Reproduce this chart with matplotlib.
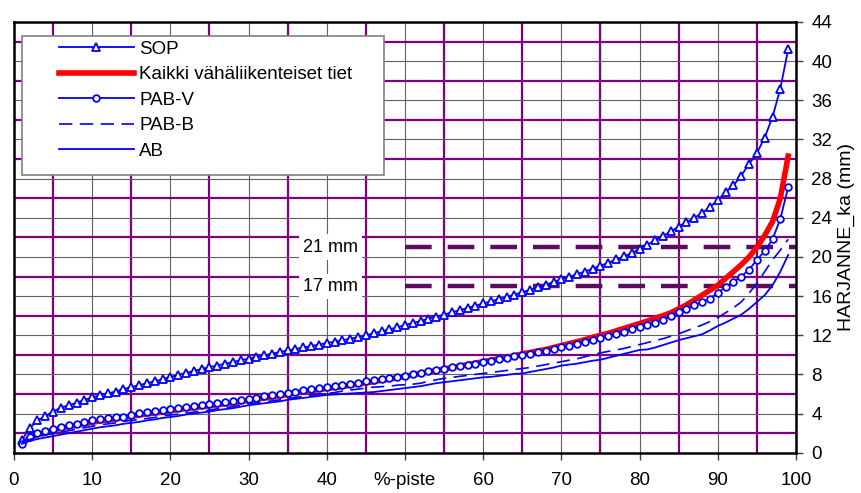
import numpy as np
import matplotlib
matplotlib.use("Agg")
import matplotlib.pyplot as plt
from matplotlib.patches import Rectangle

plt.rcParams['font.family'] = ['Liberation Sans', 'DejaVu Sans']

# Prosenttipisteet 1..99
piste = list(range(1, 100))

sop = [1.3, 2.5, 3.3, 3.75, 4.2, 4.6, 4.85, 5.1, 5.4, 5.65,
       5.85, 6.05, 6.25, 6.5, 6.7, 6.9, 7.1, 7.3, 7.5, 7.75,
       7.95, 8.15, 8.35, 8.55, 8.75, 8.9, 9.1, 9.25, 9.45, 9.6,
       9.8, 9.95, 10.1, 10.3, 10.45, 10.6, 10.75, 10.9, 11.05, 11.2,
       11.35, 11.5, 11.65, 11.8, 12.0, 12.2, 12.4, 12.6, 12.8, 13.05,
       13.25, 13.45, 13.7, 13.9, 14.1, 14.35, 14.55, 14.8, 15.0, 15.25,
       15.45, 15.7, 15.9, 16.15, 16.4, 16.65, 16.9, 17.15, 17.45, 17.7,
       17.95, 18.25, 18.5, 18.8, 19.1, 19.4, 19.75, 20.05, 20.4, 20.8,
       21.25, 21.7, 22.15, 22.6, 23.1, 23.55, 24.0, 24.5, 25.1, 25.8,
       26.6, 27.3, 28.3, 29.5, 30.6, 32.2, 34.3, 37.2, 41.2]

kaikki = [1.0, 1.5, 1.85, 2.1, 2.3, 2.5, 2.65, 2.8, 2.95, 3.1,
          3.25, 3.35, 3.45, 3.6, 3.7, 3.85, 3.95, 4.05, 4.15, 4.3,
          4.4, 4.5, 4.6, 4.7, 4.8, 4.9, 5.0, 5.1, 5.2, 5.35,
          5.45, 5.6, 5.7, 5.8, 5.95, 6.1, 6.2, 6.35, 6.45, 6.55,
          6.65, 6.75, 6.9, 7.0, 7.15, 7.25, 7.4, 7.5, 7.65, 7.8,
          7.95, 8.1, 8.25, 8.4, 8.55, 8.7, 8.85, 9.0, 9.15, 9.3,
          9.45, 9.6, 9.75, 9.9, 10.1, 10.25, 10.4, 10.55, 10.75, 10.95,
          11.15, 11.35, 11.55, 11.8, 12.0, 12.2, 12.45, 12.7, 12.95, 13.2,
          13.45, 13.75, 14.0, 14.3, 14.7, 15.1, 15.6, 16.1, 16.6, 17.1,
          17.8, 18.5, 19.2, 20.0, 21.0, 22.2, 23.6, 26.0, 30.3]

pab_v = [0.9, 1.6, 2.0, 2.25, 2.45, 2.6, 2.8, 2.95, 3.1, 3.3,
         3.4, 3.5, 3.6, 3.7, 3.9, 4.05, 4.15, 4.25, 4.35, 4.45,
         4.55, 4.65, 4.75, 4.85, 4.97, 5.07, 5.17, 5.27, 5.37, 5.5,
         5.6, 5.75, 5.85, 5.95, 6.1, 6.25, 6.4, 6.5, 6.6, 6.7,
         6.8, 6.9, 7.0, 7.15, 7.3, 7.4, 7.5, 7.6, 7.75, 7.85,
         8.0, 8.15, 8.3, 8.45, 8.6, 8.75, 8.85, 9.0, 9.1, 9.25,
         9.4, 9.55, 9.7, 9.85, 9.97, 10.1, 10.25, 10.4, 10.55, 10.75,
         10.9, 11.1, 11.3, 11.5, 11.75, 11.9, 12.1, 12.35, 12.6, 12.8,
         13.0, 13.3, 13.6, 13.95, 14.4, 14.7, 15.07, 15.4, 15.75, 16.35,
         16.9, 17.45, 18.0, 18.7, 19.7, 20.6, 21.8, 23.9, 27.1]

pab_b = [1.0, 1.35, 1.6, 1.8, 1.95, 2.1, 2.25, 2.4, 2.55, 2.7,
         2.85, 2.95, 3.05, 3.2, 3.3, 3.4, 3.5, 3.6, 3.75, 3.85,
         3.95, 4.05, 4.15, 4.25, 4.35, 4.5, 4.6, 4.7, 4.85, 5.0,
         5.1, 5.2, 5.3, 5.4, 5.55, 5.65, 5.75, 5.85, 5.95, 6.05,
         6.15, 6.3, 6.4, 6.5, 6.6, 6.7, 6.75, 6.8, 6.9, 6.95,
         7.0, 7.1, 7.3, 7.45, 7.6, 7.7, 7.8, 7.9, 8.0, 8.1,
         8.2, 8.3, 8.4, 8.5, 8.6, 8.7, 8.85, 9.0, 9.15, 9.3,
         9.45, 9.6, 9.8, 10.0, 10.2, 10.35, 10.5, 10.65, 10.85, 11.05,
         11.25, 11.45, 11.65, 11.9, 12.15, 12.45, 12.75, 13.05, 13.4, 13.8,
         14.3, 14.8, 15.4, 16.3, 17.3, 18.5, 19.7, 20.7, 21.8]

ab = [0.9, 1.2, 1.4, 1.55, 1.7, 1.85, 2.0, 2.15, 2.3, 2.45,
      2.6, 2.7, 2.8, 2.95, 3.05, 3.15, 3.3, 3.4, 3.55, 3.65,
      3.75, 3.9, 4.0, 4.1, 4.2, 4.35, 4.45, 4.55, 4.7, 4.85,
      4.95, 5.05, 5.15, 5.25, 5.4, 5.5, 5.6, 5.7, 5.8, 5.9,
      5.95, 6.0, 6.05, 6.1, 6.15, 6.2, 6.3, 6.4, 6.5, 6.6,
      6.7, 6.8, 6.95, 7.1, 7.2, 7.3, 7.4, 7.5, 7.6, 7.7,
      7.75, 7.85, 7.95, 8.05, 8.1, 8.25, 8.4, 8.55, 8.7, 8.9,
      9.0, 9.1, 9.25, 9.4, 9.5, 9.7, 9.9, 10.1, 10.3, 10.5,
      10.55, 10.75, 11.0, 11.25, 11.5, 11.7, 11.9, 12.1, 12.5, 12.95,
      13.3, 13.7, 14.1, 14.7, 15.4, 16.1, 17.1, 18.5, 20.2]

# Raja-arvot
rajat = [21, 17]
raja_tekstit = ['21 mm', '17 mm']

x_ticks = [0, 10, 20, 30, 40, 50, 60, 70, 80, 90, 100]
x_ticklabels = ['0', '10', '20', '30', '40', '%-piste', '60', '70', '80', '90', '100']
y_ticks = list(range(0, 45, 4))

blue = '#0000FF'
purple = '#800080'

fig = plt.figure(figsize=(8.62, 4.93), dpi=100)
ax = fig.add_axes([0.0162, 0.0817, 0.9072, 0.8737])

# ruudukko
ax.set_xticks(x_ticks)
ax.set_xticklabels(x_ticklabels)
ax.set_xticks(np.arange(5, 100, 10), minor=True)
ax.set_yticks(y_ticks)
ax.set_yticks(np.arange(2, 44, 4), minor=True)
ax.grid(which='major', color='#606060', lw=0.8, zorder=0)
ax.grid(which='minor', color=purple, lw=1.6, zorder=0)
ax.set_axisbelow(True)

l1, = ax.plot(piste, sop, color=blue, lw=1.3, marker='^', ms=6,
              mfc='white', mec=blue, mew=1.3, zorder=4, label='SOP')
l2, = ax.plot(piste, kaikki, color='#FF0000', lw=4, zorder=3,
              label='Kaikki vähäliikenteiset tiet')
l3, = ax.plot(piste, pab_v, color=blue, lw=1.3, marker='o', ms=4.8,
              mfc='white', mec=blue, mew=1.3, zorder=4, label='PAB-V')
l4, = ax.plot(piste, pab_b, color=blue, lw=1.2, ls=(0, (8, 4.5)), zorder=4,
              label='PAB-B')
l5, = ax.plot(piste, ab, color=blue, lw=1.3, zorder=4, label='AB')

ax.hlines(rajat, 50, 100, colors='#5E0A5E', lw=3.2, linestyles=[(0, (6, 3.6))],
          zorder=2)
for r, t in zip(rajat, raja_tekstit):
    ax.text(40.5, r, t, fontsize=13, ha='center', va='center', zorder=5,
            bbox=dict(facecolor='white', edgecolor='none', pad=3))

ax.set_xlim(0, 100)
ax.set_ylim(0, 44)

ax.yaxis.tick_right()
ax.yaxis.set_label_position('right')
ax.set_ylabel('HARJANNE_ka (mm)', fontsize=14, labelpad=4)
ax.tick_params(axis='both', which='major', labelsize=13.5, length=5,
               width=1, direction='out', color='#404040')
ax.tick_params(axis='x', pad=9)
ax.tick_params(axis='y', pad=6)
ax.tick_params(which='minor', length=0)
for s in ax.spines.values():
    s.set_linewidth(1.8)
    s.set_color('black')

# selite
ax.add_patch(Rectangle((0.0102, 0.645), 0.463, 0.3225, transform=ax.transAxes,
                       facecolor='white', edgecolor='#808080', lw=1.2,
                       zorder=6))
leg = ax.legend(handles=[l1, l2, l3, l4, l5], loc='upper left',
                bbox_to_anchor=(0.057, 0.957), frameon=False, fontsize=13.5,
                handlelength=4.0, handletextpad=0.3, labelspacing=0.45,
                borderaxespad=0, borderpad=0)
leg.set_zorder(7)

plt.savefig('out.png', dpi=100)
